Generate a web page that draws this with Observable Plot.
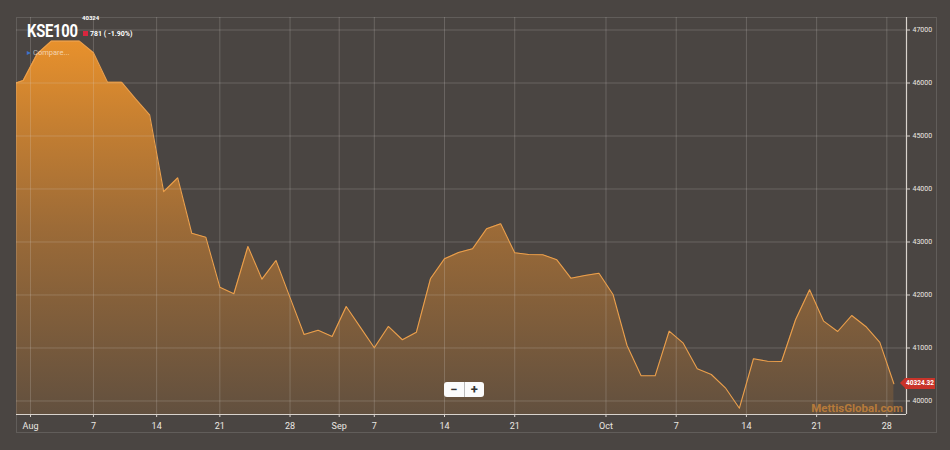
<!DOCTYPE html>
<html>
<head>
<meta charset="utf-8">
<script src="https://cdn.jsdelivr.net/npm/d3@7"></script>
<script src="https://cdn.jsdelivr.net/npm/@observablehq/plot@0.6"></script>
<style>
  body { margin: 0; background: #4a4542; }
  #wrap { position: relative; width: 950px; height: 450px; overflow: hidden; background: #4a4542;
          font-family: Roboto, "DejaVu Sans", sans-serif; }
  #wrap svg { position: absolute; left: 0; top: 0; }
  .ov { position: absolute; white-space: nowrap; pointer-events: none; }
  #box { position: absolute; left: 16px; top: 17px; width: 919px; height: 414px;
         border: 1px solid rgba(255,255,255,0.13); pointer-events: none; }
  #title { left: 27px; top: 20px; font-size: 18px; font-weight: 700; color: #fff;
           transform: scaleX(0.82); transform-origin: left top; letter-spacing: -0.3px; }
  #last { left: 82px; top: 14px; font-size: 6px; font-weight: 700; color: #fff; }
  #chg { left: 83px; top: 30px; font-size: 7px; font-weight: 700; color: #fff; }
  #chg .sq { display: inline-block; width: 5px; height: 5px; background: #d8263e; margin-right: 2px; vertical-align: 0px; }
  #cmp { left: 27px; top: 48px; font-size: 7.5px; color: rgba(255,255,255,0.62); }
  #cmp .ic { color: #3d73c9; font-size: 8px; margin-right: 2px; }
  #zoom { position: absolute; left: 444px; top: 382px; width: 40px; height: 15px; background: #fbfbfb;
          border-radius: 3px; display: flex; font-weight: 700; color: #333; font-size: 13px; line-height: 15px; }
  #zoom span { flex: 1; text-align: center; }
  #zoom span:first-child { border-right: 1px solid #bbb; }
  #wm { right: 47px; top: 401px; font-size: 11.5px; font-weight: 700; color: rgba(236,150,55,0.62); }
  #tag { position: absolute; left: 905px; width: 30px; height: 11px; background: #c9342a; color: #fff;
         font-size: 6.5px; line-height: 11px; text-align: center; font-weight: 700; }
  #tag:before { content: ""; position: absolute; left: -5px; top: 0; border-top: 5.5px solid transparent;
         border-bottom: 5.5px solid transparent; border-right: 5px solid #c9342a; }
</style>
</head>
<body>
<div id="wrap"></div>
<script>
// Daily closes (trading days), first one lies just left of the visible window
const closes = [
  45955, 46047, 46550, 46790, 46790, 46790, 46570, 46015, 46015, 45700,
  45400, 43950, 44210, 43165, 43090, 42147, 42023, 42915, 42298, 42650,
  41950, 41255, 41335, 41217, 41783, 41394, 41004, 41406, 41155, 41298,
  42306, 42684, 42800, 42872, 43249, 43343, 42796, 42764, 42758, 42664,
  42317, 42368, 42411, 42009, 41047, 40475, 40475, 41317, 41091, 40608,
  40500, 40249, 39864, 40796, 40751, 40745, 41532, 42098, 41506, 41311,
  41613, 41406, 41105, 40324.32
];
const firstIndex = -1;               // trading-day index of closes[0]
const xWindow = [-0.48, 62.9];       // visible trading-day window
const yWindow = [39745, 47236];
const tickPositions = [0.52, 5, 9.5, 14, 19, 22.5, 25, 30, 35, 41.5, 46.5, 51.5, 56.5, 61.5];
const tickLabels = ["Aug", "7", "14", "21", "28", "Sep", "7", "14", "21", "Oct", "7", "14", "21", "28"];
const yTicks = [40000, 41000, 42000, 43000, 44000, 45000, 46000, 47000];
const seriesName = "KSE100";
const lastShort = "40324";
const changeText = "781 ( -1.90%)";
const lastLabel = "40324.32";
const watermark = "MettisGlobal.com";

const data = closes.map((v, k) => ({ i: k + firstIndex, v }));
const labelMap = new Map(tickPositions.map((p, k) => [p, tickLabels[k]]));

const gradient = () => {
  const defs = document.createElementNS("http://www.w3.org/2000/svg", "defs");
  defs.innerHTML = `<linearGradient id="kseGrad" x1="0" y1="0" x2="0" y2="1">
      <stop offset="0" stop-color="#e8912c" stop-opacity="1"/>
      <stop offset="0.5" stop-color="#e08a2e" stop-opacity="0.55"/>
      <stop offset="1" stop-color="#d8862f" stop-opacity="0.17"/>
    </linearGradient>`;
  return defs;
};

const plot = Plot.plot({
  width: 950,
  height: 450,
  marginLeft: 16,
  marginRight: 44,
  marginTop: 17,
  marginBottom: 36,
  style: { background: "transparent", color: "#ece8e3", fontFamily: "Roboto, sans-serif", overflow: "visible" },
  x: { type: "linear", domain: xWindow, label: null },
  y: { domain: yWindow, label: null },
  marks: [
    gradient,
    Plot.areaY(data, { x: "i", y1: yWindow[0], y2: "v", fill: "url(#kseGrad)", clip: true }),
    Plot.gridX(tickPositions, { stroke: "#dcd6d0", strokeOpacity: 0.22 }),
    Plot.gridY(yTicks, { stroke: "#dcd6d0", strokeOpacity: 0.22 }),
    Plot.lineY(data, { x: "i", y: "v", stroke: "#eca04c", strokeWidth: 1.1, clip: true }),
    Plot.ruleY([yWindow[0]], { stroke: "#d9d3cd", strokeWidth: 1.2 }),
    Plot.ruleX([xWindow[1]], { stroke: "#d9d3cd", strokeWidth: 1.2 }),
    Plot.axisX({ ticks: tickPositions, tickFormat: d => labelMap.get(d), tickSize: 3, tickPadding: 5,
                 fontSize: 9, stroke: "#d9d3cd", fill: "#ece8e3", label: null }),
    Plot.axisY({ anchor: "right", ticks: yTicks, tickFormat: d => String(d), tickSize: 3, tickPadding: 3,
                 fontSize: 7, stroke: "#d9d3cd", fill: "#ece8e3", label: null })
  ]
});

const wrap = document.getElementById("wrap");
wrap.appendChild(plot);

function ov(id, html, cls = "ov") {
  const d = document.createElement("div");
  d.id = id; d.className = cls; d.innerHTML = html;
  wrap.appendChild(d);
  return d;
}
ov("box", "", "");
ov("title", seriesName);
ov("last", lastShort);
ov("chg", `<span class="sq"></span>${changeText}`);
ov("cmp", `<span class="ic">&#9656;</span>Compare...`);
ov("zoom", "<span>&minus;</span><span>+</span>", "");
ov("wm", watermark);
const tag = ov("tag", lastLabel, "");
const yLast = plot.scale("y").apply(closes[closes.length - 1]);
tag.style.top = (yLast - 5.5) + "px";
</script>
</body>
</html>
